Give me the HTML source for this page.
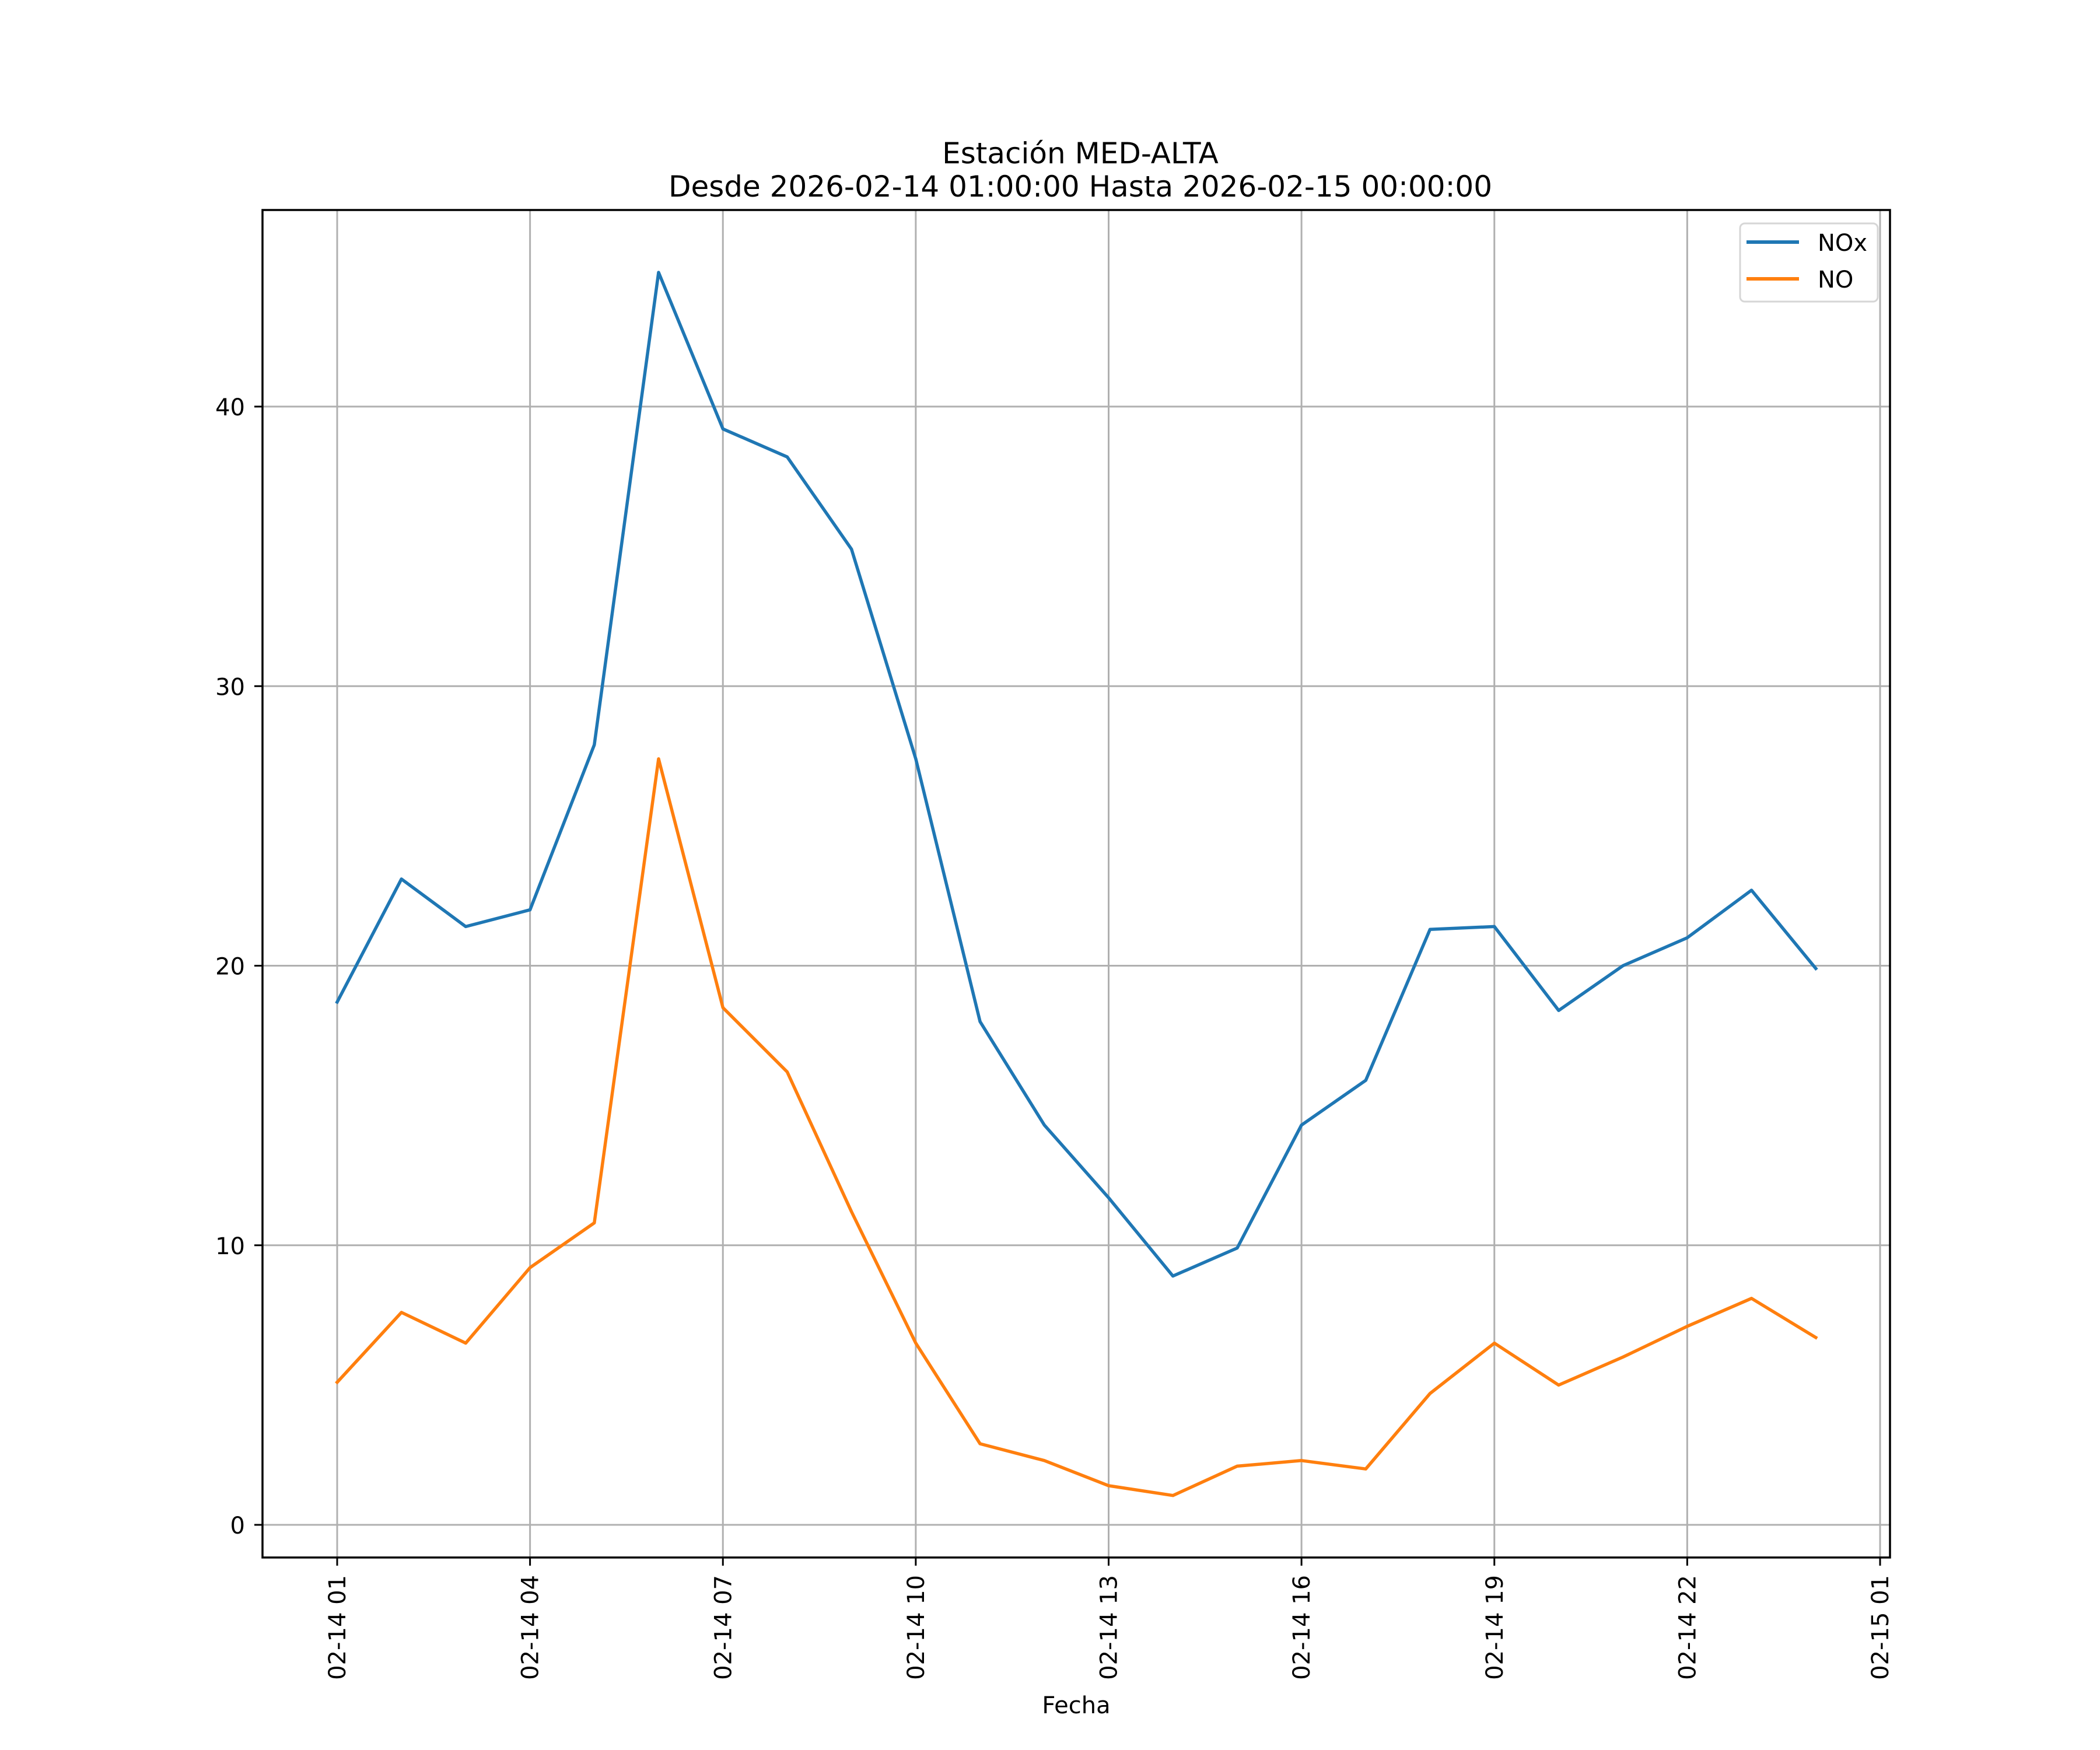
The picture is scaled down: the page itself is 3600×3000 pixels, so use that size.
<!DOCTYPE html>
<html><head><meta charset="utf-8"><style>
html,body{margin:0;padding:0;background:#fff}
svg{display:block;font-family:"DejaVu Sans","Liberation Sans",sans-serif}
</style></head><body>
<svg id="chart" width="3600" height="3000" viewBox="0 0 3600 3000">
<rect width="3600" height="3000" fill="#fff"/>
<text x="1852" y="280" font-size="50" text-anchor="middle">Estación MED-ALTA</text>
<text x="1852" y="337" font-size="50" text-anchor="middle">Desde 2026-02-14 01:00:00 Hasta 2026-02-15 00:00:00</text>
<g id="grid"></g>
<g id="series"></g>
<rect x="450" y="360" width="2790" height="2310" fill="none" stroke="#000" stroke-width="3.5"/>
<g id="axes"></g>
<text x="1845" y="2937" font-size="40" text-anchor="middle">Fecha</text>
<g>
<rect x="2983" y="383" width="236" height="134" rx="8" fill="#fff" fill-opacity="0.8" stroke="#d6d6d6" stroke-width="3"/>
<line x1="2994" y1="415" x2="3084" y2="415" stroke="#1f77b4" stroke-width="6"/>
<text x="3116" y="430" font-size="40">NOx</text>
<line x1="2994" y1="478" x2="3084" y2="478" stroke="#ff7f0e" stroke-width="6"/>
<text x="3116" y="493" font-size="40">NO</text>
</g>
</svg>
<script>
const hours = [1,2,3,4,5,6,7,8,9,10,11,12,13,14,15,16,17,18,19,20,21,22,23,24];
const noxValues = [18.7,23.1,21.4,22.0,27.9,44.8,39.2,38.2,34.9,27.4,18.0,14.3,11.7,8.9,9.9,14.3,15.9,21.3,21.4,18.4,20.0,21.0,22.7,19.9];
const noValues = [5.1,7.6,6.5,9.2,10.8,27.4,18.5,16.2,11.2,6.5,2.9,2.3,1.4,1.05,2.1,2.3,2.0,4.7,6.5,5.0,6.0,7.1,8.1,6.7];
const yTicks = [0,10,20,30,40];
const xTickHours = [1,4,7,10,13,16,19,22,25];
const xTickLabels = ["02-14 01","02-14 04","02-14 07","02-14 10","02-14 13","02-14 16","02-14 19","02-14 22","02-15 01"];

const NS = "http://www.w3.org/2000/svg";
const xs = h => 578 + (h - 1) * (3223 - 578) / 24;
const ys = v => 2614 - v * 47.925;
function mk(tag, attrs, parent) {
  const e = document.createElementNS(NS, tag);
  for (const k in attrs) e.setAttribute(k, attrs[k]);
  parent.appendChild(e);
  return e;
}
const grid = document.getElementById('grid');
const axes = document.getElementById('axes');
const series = document.getElementById('series');

yTicks.forEach(v => {
  const y = ys(v);
  const g = mk('line', {x1:450, x2:3240, y1:y, y2:y, stroke:'#b0b0b0', 'stroke-width':3}, grid);
  
  
  const t = mk('line', {x1:436, x2:450, y1:y, y2:y, stroke:'#000', 'stroke-width':3}, axes);
  
  
  const l = mk('text', {x:420, y:y + 15, 'font-size':40, 'text-anchor':'end'}, axes);
  l.textContent = v;
  
  
});
xTickHours.forEach((h, i) => {
  const x = xs(h);
  const g = mk('line', {x1:x, x2:x, y1:360, y2:2670, stroke:'#b0b0b0', 'stroke-width':3}, grid);
  
  
  const t = mk('line', {x1:x, x2:x, y1:2670, y2:2684, stroke:'#000', 'stroke-width':3}, axes);
  
  
  const l = mk('text', {x:0, y:0, 'font-size':40, 'text-anchor':'end', transform:`translate(${x + 14},2700) rotate(-90)`}, axes);
  l.textContent = xTickLabels[i];
  
  
});
function drawLine(vals, color, name) {
  const pts = vals.map((v, i) => xs(hours[i]).toFixed(1) + ',' + ys(v).toFixed(1)).join(' ');
  const p = mk('polyline', {points:pts, fill:'none', stroke:color, 'stroke-width':5.5, 'stroke-linejoin':'round', 'stroke-linecap':'square'}, series);
  
  
}
drawLine(noxValues, '#1f77b4', 'nox-line');
drawLine(noValues, '#ff7f0e', 'no-line');
</script>
</body></html>
